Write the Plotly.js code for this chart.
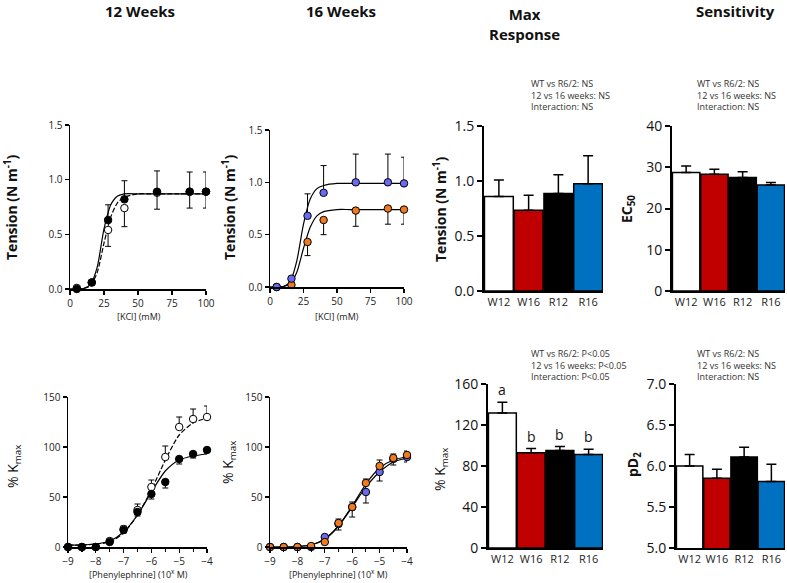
<!DOCTYPE html>
<html><head><meta charset="utf-8">
<script src="https://cdn.plot.ly/plotly-3.0.1.min.js"></script>
<style>html,body{margin:0;padding:0;background:#fff}#chart{width:787px;height:583px}</style>
</head><body><div id="chart"></div>
<script>
// ---------- data ----------
const kclX = [5,16,28,40,64,88,100];
const wt12K = [0.01,0.06,0.54,0.74,0.88,0.89,0.89];
const wt12KErr = [0,0,0.15,0.17,0.15,0.15,0.15];
const r12K = [0,0.06,0.63,0.82,0.89,0.89,0.89];
const r12KErr = [0,0,0.14,0.17,0.19,0.18,0.18];
const w16K = [0,0.02,0.43,0.64,0.73,0.75,0.74];
const w16KErr = [0,0,0.13,0.14,0.15,0.15,0.14];
const r16K = [0,0.08,0.68,0.90,1.00,1.00,0.99];
const r16KErr = [0,0,0.21,0.26,0.27,0.27,0.25];

const fitKX = [0,5,10,15,20,25,30,35,40,50,60,80,100];
const fitWT12K = [0,0,0.005,0.03,0.15,0.42,0.66,0.79,0.84,0.87,0.87,0.87,0.87];
const fitR12K = [0,0,0.005,0.04,0.20,0.55,0.77,0.85,0.87,0.87,0.87,0.87,0.87];
const fitW16K = [0,0,0.005,0.03,0.14,0.37,0.57,0.68,0.72,0.74,0.74,0.74,0.74];
const fitR16K = [0,0,0.005,0.05,0.25,0.60,0.84,0.94,0.97,0.99,0.99,0.99,0.99];

const peX = [-9,-8.5,-8,-7.5,-7,-6.5,-6,-5.5,-5,-4.5,-4];
const wt12PE = [0,0,0,6,18,37,60,90,120,128,130];
const wt12PEErr = [0,0,0,2,3,6,7,11,10,10,11];
const r12PE = [0,0,0,5,17,35,53,65,88,93,97];
const r12PEErr = [0,0,0,2,3,4,5,6,5,4,3];
const w16PE = [0,0,0,1,5,24,40,64,81,89,92];
const w16PEErr = [0,0,0,0,2,4,5,4,6,4,4];
const r16PE = [0,0,0,0,10,23,40,55,75,88,90];
const r16PEErr = [0,0,0,0,3,6,10,11,9,6,5];

const fitWT12PE = [2,2,3,5,14,32,57,87,112,124,129];
const fitR12PE = [2,2,3,6,15,32,55,76,87,91,93];
const fitW16PE = [0,0,0.5,2,8,21,41,63,79,87,90];
const fitR16PE = [0,0,0.5,2,8,21,40,60,75,85,89];

const groups = ['W12','W16','R12','R16'];
const maxK = [0.86,0.735,0.887,0.975];
const maxKErr = [0.15,0.135,0.17,0.255];
const ec50 = [28.7,28.3,27.5,25.7];
const ec50Err = [1.6,1.2,1.4,0.6];
const maxPE = [131.7,93,95,91.3];
const maxPEErr = [10.5,4,4,5];
const pD2 = [6.0,5.85,6.11,5.81];
const pD2Err = [0.14,0.11,0.12,0.21];
const letters = ['a','b','b','b'];

const statsKMax = ['WT vs R6/2: NS','12 vs 16 weeks: NS','Interaction: NS'];
const statsEC50 = ['WT vs R6/2: NS','12 vs 16 weeks: NS','Interaction: NS'];
const statsPEMax = ['WT vs R6/2: P<0.05','12 vs 16 weeks: P<0.05','Interaction: P<0.05'];
const statsPD2 = ['WT vs R6/2: NS','12 vs 16 weeks: NS','Interaction: NS'];

// ---------- styles ----------
const W = 787, H = 583;
const fx = p => p / W, fy = p => 1 - p / H;
const barColors = ['#ffffff','#c00000','#000000','#0070c0'];
const BLUE = '#6a6af0', ORANGE = '#f07a1e';
const FONT = 'Open Sans, Liberation Sans, sans-serif';

function zeros(a){ return a.map(() => 0); }

function fitLine(x, y, xa, ya, dash){
  return {x, y, xaxis: xa, yaxis: ya, type: 'scatter', mode: 'lines',
    line: {color: '#000', width: 1.2, shape: 'spline', smoothing: 0.7, dash: dash || 'solid'},
    hoverinfo: 'skip', showlegend: false, cliponaxis: false};
}
function pts(x, y, up, down, fill, xa, ya){
  return {x, y, xaxis: xa, yaxis: ya, type: 'scatter', mode: 'markers',
    marker: {size: 7.5, color: fill, line: {color: '#000', width: 1}},
    error_y: {type: 'data', symmetric: false, array: up, arrayminus: down,
      color: '#000', thickness: 1, width: 3},
    showlegend: false, cliponaxis: false};
}
function bars(y, err, xa, ya){
  return {x: groups, y, xaxis: xa, yaxis: ya, type: 'bar',
    marker: {color: barColors, line: {color: '#000', width: 1.5}},
    error_y: {type: 'data', symmetric: false, array: err, arrayminus: zeros(err),
      color: '#000', thickness: 1.5, width: 5},
    showlegend: false, cliponaxis: false};
}

const traces = [
  fitLine(fitKX, fitWT12K, 'x', 'y', '5px,2px'),
  fitLine(fitKX, fitR12K, 'x', 'y'),
  pts(kclX, wt12K, zeros(wt12K), wt12KErr, '#ffffff', 'x', 'y'),
  pts(kclX, r12K, r12KErr, zeros(r12K), '#000000', 'x', 'y'),

  fitLine(fitKX, fitW16K, 'x2', 'y2'),
  fitLine(fitKX, fitR16K, 'x2', 'y2'),
  pts(kclX, w16K, zeros(w16K), w16KErr, ORANGE, 'x2', 'y2'),
  pts(kclX, r16K, r16KErr, zeros(r16K), BLUE, 'x2', 'y2'),

  bars(maxK, maxKErr, 'x3', 'y3'),
  bars(ec50, ec50Err, 'x4', 'y4'),

  fitLine(peX, fitWT12PE, 'x5', 'y5', '5px,2px'),
  fitLine(peX, fitR12PE, 'x5', 'y5'),
  pts(peX, wt12PE, wt12PEErr, zeros(wt12PE), '#ffffff', 'x5', 'y5'),
  pts(peX, r12PE, zeros(r12PE), r12PEErr, '#000000', 'x5', 'y5'),

  fitLine(peX, fitR16PE, 'x6', 'y6'),
  fitLine(peX, fitW16PE, 'x6', 'y6'),
  pts(peX, r16PE, zeros(r16PE), r16PEErr, BLUE, 'x6', 'y6'),
  pts(peX, w16PE, w16PEErr, zeros(w16PE), ORANGE, 'x6', 'y6'),

  bars(maxPE, maxPEErr, 'x7', 'y7'),
  bars(pD2, pD2Err, 'x8', 'y8')
];

function xax(l, r, anchor, extra){
  return Object.assign({domain: [fx(l), fx(r)], anchor, showline: true, linecolor: '#000',
    linewidth: 1.5, ticks: 'outside', ticklen: 4, tickwidth: 1.2, tickcolor: '#000',
    showgrid: false, zeroline: false, fixedrange: true,
    tickfont: {family: FONT, size: 10, color: '#222'}}, extra);
}
function yax(t, b, anchor, extra){
  return Object.assign({domain: [fy(b), fy(t)], anchor, showline: true, linecolor: '#000',
    linewidth: 1.5, ticks: 'outside', ticklen: 4, tickwidth: 1.2, tickcolor: '#000',
    showgrid: false, zeroline: false, fixedrange: true,
    tickfont: {family: FONT, size: 10, color: '#222'}}, extra);
}
const barX = {type: 'category', range: [-0.5, 3.5], ticks: '', linewidth: 2,
  tickfont: {family: FONT, size: 11, color: '#222'}};
const barY = {linewidth: 2, tickwidth: 2, ticklen: 5, tickfont: {family: FONT, size: 14, color: '#111'}};
const peXax = {range: [-9, -4], tickvals: [-9,-8,-7,-6,-5,-4],
  minor: {dtick: 0.5, tick0: -9, ticks: 'outside', ticklen: 3, tickcolor: '#000'}};

const layout = {
  width: W, height: H, margin: {l: 0, r: 0, t: 0, b: 0},
  paper_bgcolor: '#fff', plot_bgcolor: 'rgba(0,0,0,0)', bargap: 0.03,
  font: {family: FONT, color: '#000'},
  xaxis:  xax(70, 206, 'y', {range: [0, 100], tickvals: [0,25,50,75,100]}),
  yaxis:  yax(125, 289, 'x', {range: [0, 1.5], tickvals: [0,0.5,1,1.5], tickformat: '.1f'}),
  xaxis2: xax(270, 404, 'y2', {range: [0, 100], tickvals: [0,25,50,75,100]}),
  yaxis2: yax(130, 287, 'x2', {range: [0, 1.5], tickvals: [0,0.5,1,1.5], tickformat: '.1f'}),
  xaxis3: xax(484, 603, 'y3', barX),
  yaxis3: yax(126, 291, 'x3', Object.assign({range: [0, 1.5], tickvals: [0,0.5,1,1.5], tickformat: '.1f'}, barY)),
  xaxis4: xax(672, 785, 'y4', barX),
  yaxis4: yax(126, 291, 'x4', Object.assign({range: [0, 40], tickvals: [0,10,20,30,40]}, barY)),
  xaxis5: xax(68, 207, 'y5', peXax),
  yaxis5: yax(397, 547, 'x5', {range: [0, 150], tickvals: [0,50,100,150]}),
  xaxis6: xax(270, 407, 'y6', peXax),
  yaxis6: yax(397, 547, 'x6', {range: [0, 150], tickvals: [0,50,100,150]}),
  xaxis7: xax(488, 603, 'y7', barX),
  yaxis7: yax(384, 548, 'x7', Object.assign({range: [0, 160], tickvals: [0,40,80,120,160]}, barY)),
  xaxis8: xax(676, 785, 'y8', barX),
  yaxis8: yax(384, 548, 'x8', Object.assign({range: [5, 7], tickvals: [5,5.5,6,6.5,7], tickformat: '.1f'}, barY)),
  annotations: []
};

function ann(text, x, y, opts){
  layout.annotations.push(Object.assign({text, xref: 'paper', yref: 'paper', x: fx(x), y: fy(y),
    xanchor: 'center', yanchor: 'middle', showarrow: false,
    font: {family: FONT, size: 14, color: '#111'}}, opts || {}));
}
const bold16 = {font: {family: FONT, size: 15, color: '#111', weight: 'bold'}};
ann('12 Weeks', 140, 11, bold16);
ann('16 Weeks', 341, 11, bold16);
ann('Max<br>Response', 524, 24, bold16);
ann('Sensitivity', 735, 11, bold16);

const yt = {textangle: -90, font: {family: FONT, size: 14, color: '#111', weight: 'bold'}};
const ytr = {textangle: -90, font: {family: FONT, size: 14, color: '#111'}};
ann('Tension (N m<sup>-1</sup>)', 11, 207, yt);
ann('Tension (N m<sup>-1</sup>)', 229, 207, yt);
ann('Tension (N m<sup>-1</sup>)', 440, 209, yt);
ann('EC<sub>50</sub>', 628, 209, yt);
ann('% K<sub>max</sub>', 13, 467, ytr);
ann('% K<sub>max</sub>', 228, 463, ytr);
ann('% K<sub>max</sub>', 440, 470, ytr);
ann('pD<sub>2</sub>', 633, 465, yt);

const xt = {font: {family: FONT, size: 9, color: '#222'}};
ann('[KCl] (mM)', 139, 316, xt);
ann('[KCl] (mM)', 337, 316, xt);
ann('[Phenylephrine] (10<sup>x</sup> M)', 138, 574, xt);
ann('[Phenylephrine] (10<sup>x</sup> M)', 338, 574, xt);

const st = {xanchor: 'left', align: 'left', font: {family: FONT, size: 9, color: '#333'}};
ann(statsKMax.join('<br>'), 529, 95, st);
ann(statsEC50.join('<br>'), 695, 95, st);
ann(statsPEMax.join('<br>'), 529, 365, st);
ann(statsPD2.join('<br>'), 695, 365, st);

groups.forEach((g, i) => {
  layout.annotations.push({text: letters[i], x: g, y: maxPE[i] + maxPEErr[i], xref: 'x7', yref: 'y7',
    xanchor: 'center', yanchor: 'bottom', yshift: 1, showarrow: false,
    font: {family: FONT, size: 14, color: '#111'}});
});

Plotly.newPlot('chart', traces, layout, {staticPlot: true, displayModeBar: false});
</script></body></html>
